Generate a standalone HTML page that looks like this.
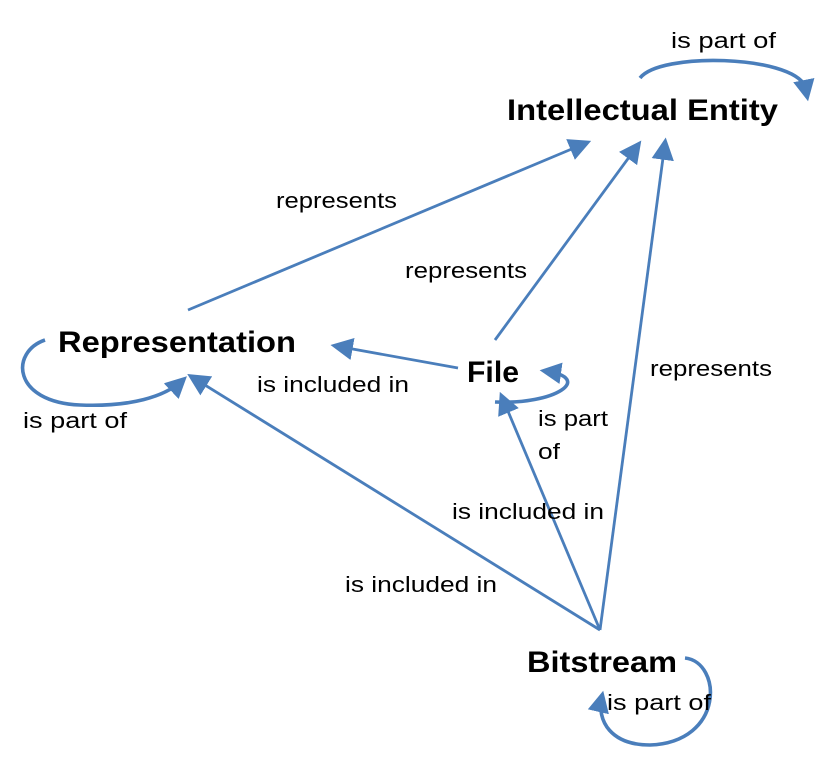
<!DOCTYPE html>
<html><head><meta charset="utf-8"><style>html,body{margin:0;padding:0;background:#fff}svg{display:block}</style></head>
<body>
<svg width="817" height="778" viewBox="0 0 817 778" xmlns="http://www.w3.org/2000/svg">
<defs>
<marker id="a" markerWidth="8" markerHeight="8" refX="6" refY="4" orient="auto" markerUnits="strokeWidth">
<path d="M0,0 L8,4 L0,8 Z" fill="#4a7ebb"/>
</marker>
<marker id="b" markerWidth="6" markerHeight="6" refX="4.5" refY="3" orient="auto" markerUnits="strokeWidth">
<path d="M0,0 L6,3 L0,6 Z" fill="#4a7ebb"/>
</marker>
</defs>
<g stroke="#4a7ebb" stroke-width="2.8" fill="none" marker-end="url(#a)">
<line x1="188" y1="310" x2="586" y2="143"/>
<line x1="495" y1="340" x2="638" y2="145"/>
<line x1="600" y1="630" x2="665" y2="143"/>
<line x1="458" y1="368" x2="336" y2="346"/>
<line x1="600" y1="630" x2="192" y2="377"/>
<line x1="600" y1="630" x2="502" y2="397"/>
</g>
<g stroke="#4a7ebb" stroke-width="3.6" fill="none" marker-end="url(#b)">
<path d="M640,78 C660,52 790,55 805,86 L807,96"/>
<path d="M45,340 C10,352 12,402 80,405 C130,407 165,397 183,380"/>
<path d="M495,402 C555,405 595,378 545,371"/>
<path d="M685,658 C722,662 725,742 650,745 C612,745 596,722 602,696"/>
</g>
<g font-family="Liberation Sans, sans-serif" fill="#000">
<g font-weight="bold" font-size="30">
<text x="507" y="120" textLength="271" lengthAdjust="spacingAndGlyphs">Intellectual Entity</text>
<text x="58" y="352" textLength="238" lengthAdjust="spacingAndGlyphs">Representation</text>
<text x="467" y="382" textLength="52" lengthAdjust="spacingAndGlyphs">File</text>
<text x="527" y="672" textLength="150" lengthAdjust="spacingAndGlyphs">Bitstream</text>
</g>
<g font-size="22">
<text x="671" y="48" textLength="105" lengthAdjust="spacingAndGlyphs">is part of</text>
<text x="276" y="208" textLength="121" lengthAdjust="spacingAndGlyphs">represents</text>
<text x="405" y="278" textLength="122" lengthAdjust="spacingAndGlyphs">represents</text>
<text x="650" y="376" textLength="122" lengthAdjust="spacingAndGlyphs">represents</text>
<text x="257" y="392" textLength="152" lengthAdjust="spacingAndGlyphs">is included in</text>
<text x="23" y="428" textLength="104" lengthAdjust="spacingAndGlyphs">is part of</text>
<text x="538" y="426" textLength="70" lengthAdjust="spacingAndGlyphs">is part</text>
<text x="538" y="459" textLength="22" lengthAdjust="spacingAndGlyphs">of</text>
<text x="452" y="519" textLength="152" lengthAdjust="spacingAndGlyphs">is included in</text>
<text x="345" y="592" textLength="152" lengthAdjust="spacingAndGlyphs">is included in</text>
<text x="607" y="710" textLength="104" lengthAdjust="spacingAndGlyphs">is part of</text>
</g>
</g>
</svg>
</body></html>
